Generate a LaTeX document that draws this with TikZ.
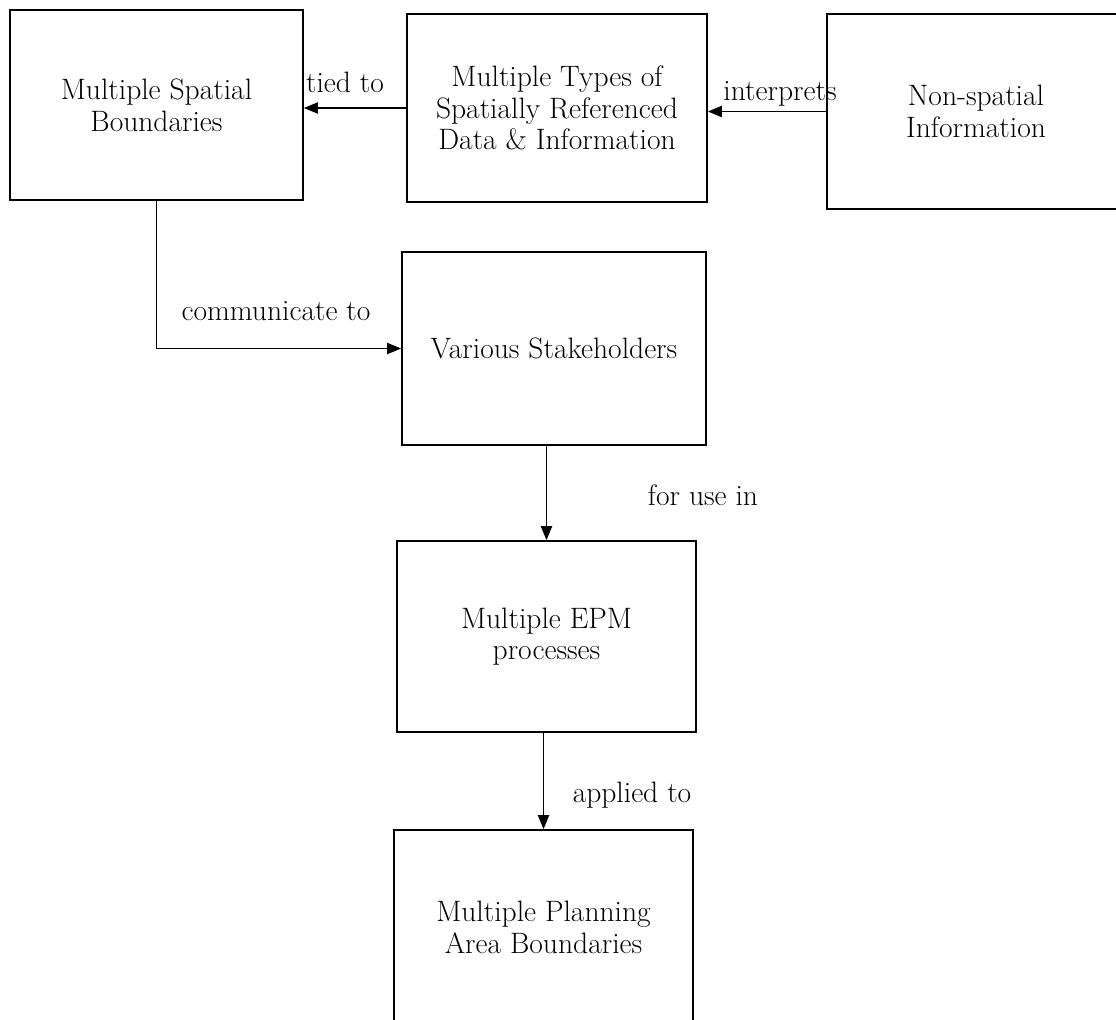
\documentclass[tikz,border=0pt]{standalone}
\usepackage{fontspec}
\usepackage{tikz}
\usetikzlibrary{arrows.meta, positioning}

\begin{document}
\begin{tikzpicture}[
        x=0.025cm, y=-0.025cm,
        box/.style={rectangle, draw=black, line width=1.2pt, align=center, inner sep=0pt, font=\fontsize{21}{22.5}\selectfont},
        lbl/.style={anchor=base, inner sep=0pt, font=\fontsize{21}{22.5}\selectfont},
        arr/.style={-{Triangle[length=10pt, width=8pt]}, line width=1pt, black}
      ]
        \useasboundingbox (0,0) rectangle (1116,1019);

        \node[box, minimum width=7.325cm, minimum height=4.75cm] (bounds) at (156.5,105) {Multiple Spatial\\Boundaries};
        \node[box, minimum width=7.5cm, minimum height=4.7cm] (data) at (557,108) {Multiple Types of\\Spatially Referenced\\Data \& Information};
        \node[box, minimum width=7.45cm, minimum height=4.875cm] (nonsp) at (976,111.5) {Non-spatial\\Information};
        \node[box, minimum width=7.6cm, minimum height=4.825cm] (stake) at (554,348.5) {Various Stakeholders};
        \node[box, minimum width=7.475cm, minimum height=4.775cm] (epm) at (546.5,636.5) {Multiple EPM\\processes};
        \node[box, minimum width=7.475cm, minimum height=4.875cm] (plan) at (543.5,927.5) {Multiple Planning\\Area Boundaries};

        \draw[arr] (data.west) -- (data.west -| bounds.east);
        \draw[arr] (nonsp.west) -- (nonsp.west -| data.east);
        \draw[arr] (bounds.south) |- (stake.west);
        \draw[arr] (stake.south -| epm) -- (epm.north);
        \draw[arr] (epm.south -| plan) -- (plan.north);

        \node[lbl] (tied) at (345,92) {tied to};
        \node[lbl] (interp) at (780,100) {interprets};
        \node[lbl] (comm) at (276,320) {communicate to};
        \node[lbl] (use) at (703,505) {for use in};
        \node[lbl] (appl) at (632,802) {applied to};
      \end{tikzpicture}
\end{document}
